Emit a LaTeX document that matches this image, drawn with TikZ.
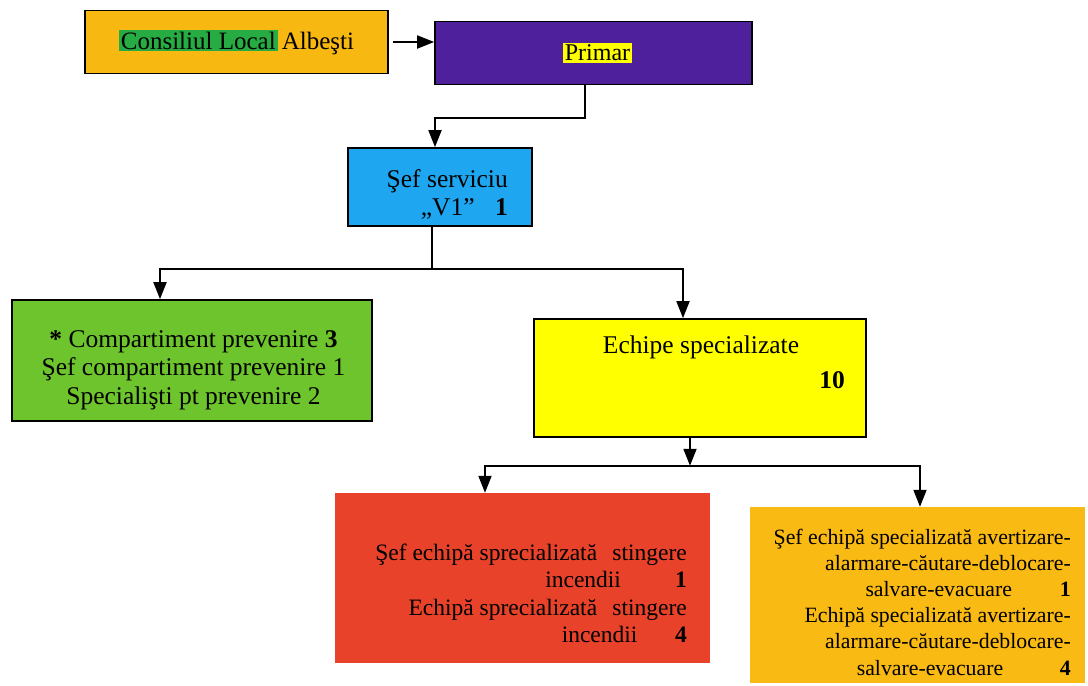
\documentclass[tikz,border=0pt]{standalone}
\usepackage{fontspec}
\newfontfamily\tnr{Liberation Serif}
\usetikzlibrary{arrows.meta}
\definecolor{corange}{RGB}{248,184,18}
\definecolor{hlgreen}{RGB}{38,172,66}
\definecolor{cpurple}{RGB}{78,32,156}
\definecolor{cblue}{RGB}{30,166,240}
\definecolor{cgreen}{RGB}{110,196,44}
\definecolor{cyellow}{RGB}{255,255,0}
\definecolor{cred}{RGB}{232,66,42}
\definecolor{corange2}{RGB}{250,186,20}
\setlength{\fboxsep}{2pt}
\begin{document}
\begin{tikzpicture}[x=1pt,y=-1pt]
\tikzset{
 box/.style={draw=black,line width=1.6pt,inner sep=0pt,font=\tnr\fontsize{25}{28}\selectfont},
 txt/.style={inner sep=0pt,font=\tnr\fontsize{25.5}{28.5}\selectfont},
 conn/.style={line width=1.8pt},
 arr/.style={conn,-{Triangle[length=17pt,width=13pt]}}
}
\useasboundingbox[fill=white] (0,0) rectangle (1088,686);
% boxes
\node[box,fill=corange,minimum width=303pt,minimum height=63pt] (cons) at (236.5,42)
  {\colorbox{hlgreen}{Consiliul Local}\,Albeşti};
\node[box,fill=cpurple,minimum width=317pt,minimum height=63pt,font=\tnr\fontsize{24}{28}\selectfont] (prim) at (593.5,53)
  {\hspace*{8pt}\colorbox{cyellow}{Primar}};
\node[box,fill=cblue,minimum width=184pt,minimum height=78pt] (sef) at (440,187) {};
\node[box,fill=cgreen,minimum width=360pt,minimum height=121pt] (grn) at (192,360.5) {};
\node[box,fill=cyellow,minimum width=332pt,minimum height=118pt] (yel) at (700,378) {};
\node[draw=none,fill=cred,minimum width=375pt,minimum height=170pt,inner sep=0pt] (red) at (522.5,578) {};
\node[draw=none,fill=corange2,minimum width=335pt,minimum height=176pt,inner sep=0pt] (org) at (917.5,595) {};
% texts
\node[txt,align=right,anchor=east,font=\tnr\fontsize{25.5}{28}\selectfont] (sefT) at (508,194)
  {Şef serviciu\\ „V1”\hspace{0.8em}\textbf{1}};
\node[txt,align=center] (grnT) at (193.5,370)
  {\textbf{*} Compartiment prevenire \textbf{3}\\ Şef compartiment prevenire 1\\ Specialişti pt prevenire 2};
\node[txt] (yelT) at (701,347) {Echipe specializate};
\node[txt,anchor=east] (yelN) at (845,380) {\textbf{10}};
\node[txt,align=right,anchor=east,font=\tnr\fontsize{23.5}{27.5}\selectfont] (redT) at (687,593.5)
  {Şef echipă sprecializată\hspace{0.65em}stingere\\
   incendii\hspace{2.3em}\textbf{1}\\
   Echipă sprecializată\hspace{0.65em}stingere\\
   incendii\hspace{1.6em}\textbf{4}};
\node[txt,align=right,anchor=east,font=\tnr\fontsize{21.8}{26.2}\selectfont] (orgT) at (1071,602)
  {Şef echipă specializată avertizare-\\
   alarmare-căutare-deblocare-\\
   salvare-evacuare\hspace{2.2em}\textbf{1}\\
   Echipă specializată avertizare-\\
   alarmare-căutare-deblocare-\\
   salvare-evacuare\hspace{2.6em}\textbf{4}};
% connectors
\draw[arr] ([xshift=4pt]cons.east) -- (cons.east -| prim.west);
\draw[arr] ([xshift=-8.5pt]prim.south) -- ++(0,33) -| ([xshift=-5pt]sef.north);
\draw[conn] ([xshift=-8pt]sef.south) -- ++(0,42) coordinate (j1);
\draw[arr] (j1) -| ([xshift=-32pt]grn.north);
\draw[arr] (j1) -| ([xshift=-17pt]yel.north);
\draw[arr] ([xshift=-10pt]yel.south) -- ++(0,28) coordinate (j2);
\draw[arr] (j2) -| ([xshift=-37.5pt]red.north);
\draw[arr] (j2) -| ([xshift=2.5pt]org.north);
\end{tikzpicture}
\end{document}
